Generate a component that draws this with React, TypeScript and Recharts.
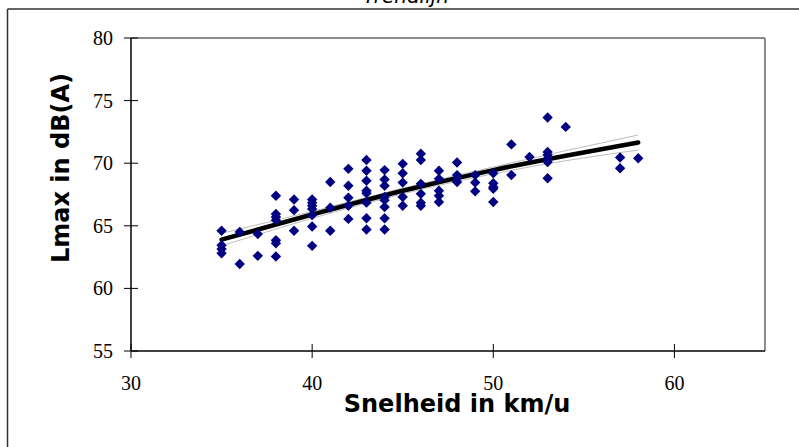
import { CSSProperties } from 'react';
import {
  ComposedChart,
  Scatter,
  Line,
  XAxis,
  YAxis,
  ReferenceLine,
} from 'recharts';

const speeds = [
  35, 35, 35, 35,
  36, 36,
  37, 37,
  38, 38, 38, 38, 38, 38, 38,
  39, 39, 39,
  40, 40, 40, 40, 40, 40, 40,
  41, 41, 41,
  42, 42, 42, 42, 42,
  43, 43, 43, 43, 43, 43, 43, 43,
  44, 44, 44, 44, 44, 44, 44, 44,
  45, 45, 45, 45, 45,
  46, 46, 46, 46, 46, 46,
  47, 47, 47, 47, 47,
  48, 48, 48, 48,
  49, 49, 49,
  50, 50, 50, 50, 50,
  51, 51,
  52,
  53, 53, 53, 53, 53, 53,
  54,
  57, 57,
  58,
];
const levels = [
  64.6, 63.45, 63.15, 62.8,
  64.5, 61.95,
  64.35, 62.6,
  67.4, 65.95, 65.7, 65.45, 63.85, 63.6, 62.55,
  67.1, 66.25, 64.6,
  67.1, 66.85, 66.6, 66.35, 65.85, 64.95, 63.4,
  68.5, 66.45, 64.6,
  69.55, 68.2, 67.25, 66.6, 65.55,
  70.25, 69.4, 68.6, 67.8, 67.6, 66.85, 65.6, 64.7,
  69.45, 68.7, 68.2, 67.3, 67.05, 66.5, 65.6, 64.7,
  69.95, 69.2, 68.45, 67.3, 66.6,
  70.75, 70.25, 68.35, 67.55, 66.85, 66.6,
  69.4, 68.75, 67.8, 67.4, 66.9,
  70.05, 69.05, 68.8, 68.5,
  69.05, 68.45, 67.75,
  69.2, 68.4, 68.1, 67.95, 66.9,
  71.5, 69.05,
  70.5,
  73.65, 70.9, 70.65, 70.35, 70.1, 68.8,
  72.9,
  70.45, 69.6,
  70.4,
];

// trendline and its thin band
const trendX = [35, 40, 45, 50, 54, 58];
const trendY = [63.9, 65.9, 67.8, 69.45, 70.6, 71.65];
const upperY = [64.4, 66.15, 68.0, 69.7, 71.0, 72.25];
const lowerY = [63.4, 65.6, 67.55, 69.15, 70.2, 71.05];

const xTicks = [30, 40, 50, 60];
const yTicks = [55, 60, 65, 70, 75, 80];

const points = speeds.map((x, i) => ({ x, y: levels[i] }));
const trend = trendX.map((x, i) => ({ x, y: trendY[i] }));
const upper = trendX.map((x, i) => ({ x, y: upperY[i] }));
const lower = trendX.map((x, i) => ({ x, y: lowerY[i] }));

const tickFont = { fontFamily: '"Liberation Serif", serif', fontSize: 20, fill: '#000' };
const labelFont = { fontFamily: '"DejaVu Sans", sans-serif', fontSize: 24, fontWeight: 'bold' as const, fill: '#000' };

const Diamond = (props: any) => {
  const { cx, cy } = props;
  const r = 5.2;
  return (
    <path
      d={`M${cx},${cy - r}L${cx + r},${cy}L${cx},${cy + r}L${cx - r},${cy}Z`}
      fill="#000080"
    />
  );
};

const YTick = (props: any) => {
  const { x, y, payload } = props;
  return (
    <g>
      <line x1={x - 7} x2={x + 7} y1={y} y2={y} stroke="#000" strokeWidth={1} />
      <text x={x - 18} y={y} textAnchor="end" dominantBaseline="central" {...tickFont}>
        {payload.value}
      </text>
    </g>
  );
};

const XTick = (props: any) => {
  const { x, y, payload } = props;
  return (
    <g>
      <line x1={x} x2={x} y1={y - 7} y2={y + 7} stroke="#000" strokeWidth={1} />
      <text x={x} y={y + 32} textAnchor="middle" dominantBaseline="central" {...tickFont}>
        {payload.value}
      </text>
    </g>
  );
};

export default function App() {
  const wrapStyle: CSSProperties = {
    position: 'absolute',
    left: 0,
    top: 0,
    width: 799,
    height: 447,
    background: '#fff',
    overflow: 'hidden',
  };

  return (
    <div style={wrapStyle}>
      <ComposedChart
        width={799}
        height={447}
        margin={{ top: 38, right: 34, bottom: 66, left: 71 }}
      >
        <XAxis
          dataKey="x"
          type="number"
          domain={[30, 65]}
          ticks={xTicks}
          tickSize={0}
          tickMargin={0}
          tickLine={false}
          tick={<XTick />}
          height={30}
          axisLine={{ stroke: '#000', strokeWidth: 1.5 }}
        />
        <YAxis
          type="number"
          domain={[55, 80]}
          ticks={yTicks}
          tickSize={0}
          tickMargin={0}
          tickLine={false}
          tick={<YTick />}
          width={60}
          axisLine={{ stroke: '#000', strokeWidth: 1.5 }}
        />
        <ReferenceLine y={80} stroke="#8c8c8c" strokeWidth={2} />
        <ReferenceLine x={65} stroke="#8c8c8c" strokeWidth={2} />
        <Scatter data={points} dataKey="y" shape={<Diamond />} isAnimationActive={false} />
        <Line
          data={upper}
          dataKey="y"
          type="monotone"
          stroke="#bdbdbd"
          strokeWidth={1}
          dot={false}
          activeDot={false}
          isAnimationActive={false}
        />
        <Line
          data={lower}
          dataKey="y"
          type="monotone"
          stroke="#bdbdbd"
          strokeWidth={1}
          dot={false}
          activeDot={false}
          isAnimationActive={false}
        />
        <Line
          data={trend}
          dataKey="y"
          type="monotone"
          stroke="#000"
          strokeWidth={4.5}
          strokeLinecap="round"
          dot={false}
          activeDot={false}
          isAnimationActive={false}
        />
      </ComposedChart>
      <svg
        width={799}
        height={447}
        style={{ position: 'absolute', left: 0, top: 0, pointerEvents: 'none' }}
      >
        <text
          x={406}
          y={3}
          textAnchor="middle"
          fontFamily='"DejaVu Sans", sans-serif'
          fontStyle="italic"
          fontSize={20}
          fill="#000"
        >
          Trendlijn
        </text>
        <line x1={7.5} x2={799} y1={9} y2={9} stroke="#333" strokeWidth={1.5} />
        <line x1={7.5} x2={7.5} y1={9} y2={447} stroke="#333" strokeWidth={1.5} />
        <text x={457} y={412} textAnchor="middle" {...labelFont}>
          Snelheid in km/u
        </text>
        <text
          x={0}
          y={0}
          textAnchor="middle"
          transform="translate(69,168) rotate(-90)"
          {...labelFont}
        >
          Lmax in dB(A)
        </text>
      </svg>
    </div>
  );
}
